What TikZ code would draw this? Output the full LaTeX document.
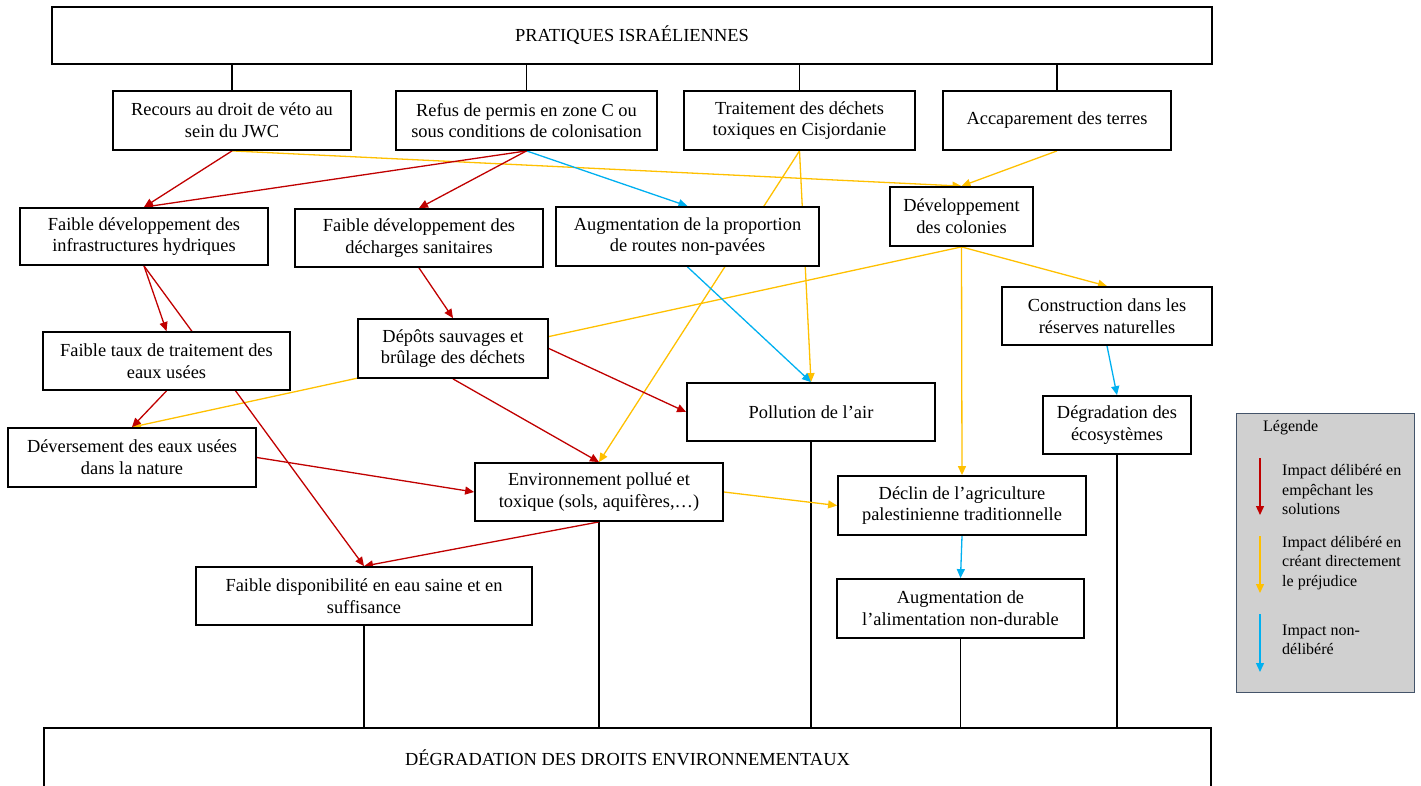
\documentclass[tikz,border=0pt]{standalone}
\usepackage{fontspec}
\setmainfont{Liberation Serif}
\usetikzlibrary{arrows.meta,backgrounds}

\definecolor{crouge}{HTML}{C00000}
\definecolor{cjaune}{HTML}{FFC000}
\definecolor{cbleu}{HTML}{00B0F0}
\definecolor{cgris}{HTML}{D0D0D0}
\definecolor{cardoise}{HTML}{44546A}

\begin{document}
\begin{tikzpicture}[x=1pt,y=-1pt,
	boite/.style={draw,line width=1.8pt,fill=white,align=center,inner sep=0pt,font=\fontsize{18.4}{21.7}\selectfont},
	ligne/.style={line width=1.5pt},
	fleche/.style={line width=1.3pt,-{Triangle[length=9pt,width=8pt]}},
	delibere/.style={fleche,crouge},
	prejudice/.style={fleche,cjaune},
	nondelibere/.style={fleche,cbleu},
	legtexte/.style={align=left,inner sep=0pt,anchor=west,font=\fontsize{16}{19.5}\selectfont}]
			\useasboundingbox (0,0) rectangle (1421,785);

			\node[boite,minimum width=1160pt,minimum height=57pt]	(pratiques)		at (632,35.5)	{PRATIQUES ISRAÉLIENNES};

			\node[boite,minimum width=238pt,minimum height=59pt]	(recours)		at (232,120.5)	{Recours au droit de véto au\\sein du JWC};
			\node[boite,minimum width=261pt,minimum height=59pt]	(refus)			at (526.5,120.5)	{Refus de permis en zone C ou\\sous conditions de colonisation};
			\node[boite,minimum width=231pt,minimum height=59pt]	(traitement)	at (799.5,120.5)	{Traitement des déchets\\toxiques en Cisjordanie};
			\node[boite,minimum width=228pt,minimum height=59pt]	(accaparement)	at (1057,120.5)	{Accaparement des terres};

			\node[boite,minimum width=248pt,minimum height=57pt]	(hydriques)		at (144,236.5)	{Faible développement des\\infrastructures hydriques};
			\node[boite,minimum width=248pt,minimum height=58pt]	(decharges)		at (419,238)	{Faible développement des\\décharges sanitaires};
			\node[boite,minimum width=263pt,minimum height=59pt]	(routes)		at (687.5,236.5)	{Augmentation de la proportion\\de routes non-pavées};
			\node[boite,minimum width=143pt,minimum height=59pt]	(colonies)		at (961.5,216.5)	{Développement\\des colonies};

			\node[boite,minimum width=247pt,minimum height=58pt]	(tauxeaux)		at (166.5,361)	{Faible taux de traitement des\\eaux usées};
			\node[boite,minimum width=190pt,minimum height=59pt]	(depots)		at (453,348.5)	{Dépôts sauvages et\\brûlage des déchets};
			\node[boite,minimum width=210pt,minimum height=58pt]	(construction)	at (1107,316)	{Construction dans les\\réserves naturelles};
			\node[boite,minimum width=248pt,minimum height=58pt]	(pollution)		at (811,412)	{Pollution de l’air};
			\node[boite,minimum width=148pt,minimum height=58pt]	(ecosystemes)	at (1117,425)	{Dégradation des\\écosystèmes};

			\node[boite,minimum width=248pt,minimum height=59pt]	(deversement)	at (132,457.5)	{Déversement des eaux usées\\dans la nature};
			\node[boite,minimum width=248pt,minimum height=58pt]	(environnement)	at (599,492)	{Environnement pollué et\\toxique (sols, aquifères,…)};
			\node[boite,minimum width=248pt,minimum height=59pt]	(declin)		at (962,505.5)	{Déclin de l’agriculture\\palestinienne traditionnelle};
			\node[boite,minimum width=336pt,minimum height=58pt]	(disponibilite)	at (364,596)	{Faible disponibilité en eau saine et en\\suffisance};
			\node[boite,minimum width=247pt,minimum height=59pt]	(alimentation)	at (960.5,608.5)	{Augmentation de\\l’alimentation non-durable};

			\node[boite,minimum width=1167pt,minimum height=60pt]	(degradation)	at (627.5,758)	{DÉGRADATION DES DROITS ENVIRONNEMENTAUX};

			% legende
			\draw[fill=cgris,draw=cardoise,line width=1pt] (1236,413) rectangle (1414,692);
			\node[legtexte]	(legende)		at (1263,428)	{Légende};
			\node[legtexte]	(legrouge)		at (1282,490)	{Impact délibéré en\\empêchant les\\solutions};
			\node[legtexte]	(legjaune)		at (1282,563)	{Impact délibéré en\\créant directement\\le préjudice};
			\node[legtexte]	(legbleu)		at (1282,640)	{Impact non-\\délibéré};
			\coordinate (r0) at (1260,458);
			\coordinate (r1) at (1260,515);
			\coordinate (j0) at (1260,536);
			\coordinate (j1) at (1260,593);
			\coordinate (b0) at (1260,614);
			\coordinate (b1) at (1260,672);
			\draw[delibere] (r0) -- (r1);
			\draw[prejudice] (j0) -- (j1);
			\draw[nondelibere] (b0) -- (b1);

			\begin{scope}[on background layer]
				\draw[ligne] (pratiques.south -| recours.north) -- (recours.north);
				\draw[ligne] (pratiques.south -| refus.north) -- (refus.north);
				\draw[ligne] (pratiques.south -| traitement.north) -- (traitement.north);
				\draw[ligne] (pratiques.south -| accaparement.north) -- (accaparement.north);

				\draw[ligne] (disponibilite.south) -- (disponibilite.south |- degradation.north);
				\draw[ligne] (environnement.south) -- (environnement.south |- degradation.north);
				\draw[ligne] (pollution.south) -- (pollution.south |- degradation.north);
				\draw[ligne] (alimentation.south) -- (alimentation.south |- degradation.north);
				\draw[ligne] (ecosystemes.south) -- (ecosystemes.south |- degradation.north);

				\draw[prejudice] (recours.south) -- (colonies.north);
				\draw[prejudice] (accaparement.south) -- (colonies.north);
				\draw[prejudice] (traitement.south) -- (environnement.north);
				\draw[prejudice] (traitement.south) -- (pollution.north);
				\draw[prejudice] (colonies.south) -- (deversement.north);
				\draw[prejudice] (colonies.south) -- (declin.north);
				\draw[prejudice] (colonies.south) -- (construction.north);
				\draw[prejudice] (environnement.east) -- (declin.west);

				\draw[nondelibere] (refus.south) -- (routes.north);
				\draw[nondelibere] (routes.south) -- (pollution.north);
				\draw[nondelibere] (construction.south) -- (ecosystemes.north);
				\draw[nondelibere] (declin.south) -- (alimentation.north);

				\draw[delibere] (recours.south) -- (hydriques.north);
				\draw[delibere] (refus.south) -- (hydriques.north);
				\draw[delibere] (refus.south) -- (decharges.north);
				\draw[delibere] (hydriques.south) -- (tauxeaux.north);
				\draw[delibere] (hydriques.south) -- (disponibilite.north);
				\draw[delibere] (tauxeaux.south) -- (deversement.north);
				\draw[delibere] (decharges.south) -- (depots.north);
				\draw[delibere] (depots.south) -- (environnement.north);
				\draw[delibere] (depots.east) -- (pollution.west);
				\draw[delibere] (deversement.east) -- (environnement.west);
				\draw[delibere] (environnement.south) -- (disponibilite.north);
			\end{scope}
		\end{tikzpicture}
\end{document}
